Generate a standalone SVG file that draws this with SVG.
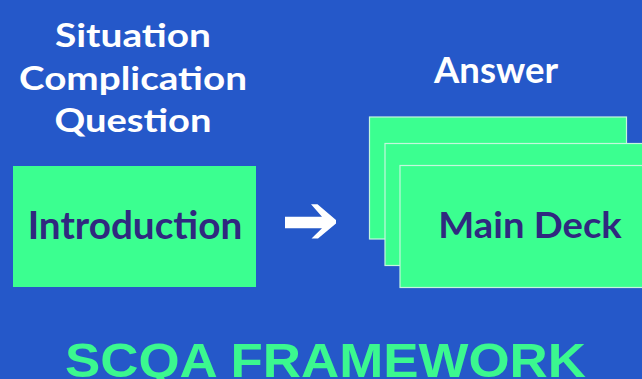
<svg xmlns="http://www.w3.org/2000/svg" width="642" height="379" viewBox="0 0 642 379">
<style>
.hdr{font-family:Lato,"Open Sans",sans-serif;font-weight:700;fill:#ffffff;text-anchor:middle}
.lbl{font-family:Lato,"Open Sans",sans-serif;font-weight:700;fill:#30287f}
.box{fill:#3bff90}
.card{fill:#3bff90;stroke:#c4f7dc;stroke-width:1.2}
.title{font-family:"Liberation Sans",Arial,sans-serif;font-weight:700;fill:#3bf88f}
</style>
<rect x="0" y="0" width="642" height="379" fill="#2558c9"/>
<g id="header-left">
<text class="hdr" x="133" y="46.7" font-size="32.5" textLength="156" lengthAdjust="spacingAndGlyphs">Situation</text>
<text class="hdr" x="133" y="90" font-size="32.5" textLength="228" lengthAdjust="spacingAndGlyphs">Complication</text>
<text class="hdr" x="133" y="131.7" font-size="32.5" textLength="157" lengthAdjust="spacingAndGlyphs">Question</text>
</g>
<g id="header-right">
<text class="hdr" x="496" y="83.3" font-size="36" textLength="124" lengthAdjust="spacingAndGlyphs">Answer</text>
</g>
<g id="introduction">
<rect class="box" x="13" y="166" width="243" height="121"/>
<text class="lbl" x="27.7" y="239.3" font-size="37.5" textLength="214.6" lengthAdjust="spacingAndGlyphs">Introduction</text>
</g>
<g id="connectors">
<polygon fill="#ffffff" points="285,216.7 322,216.7 311,204.3 317.5,204.3 336,220 336,223.5 318,238.5 311.5,238.5 322,228.3 285,228.3"/>
</g>
<g id="main-deck">
<rect class="card" x="369.5" y="117" width="257" height="122"/>
<rect class="card" x="385" y="143.5" width="262" height="122"/>
<rect class="card" x="400" y="165.5" width="247" height="122"/>
<text class="lbl" x="438.3" y="238.3" font-size="36" textLength="183.4" lengthAdjust="spacingAndGlyphs">Main Deck</text>
</g>
<g id="title">
<text class="title" x="65" y="376.7" font-size="48" textLength="521" lengthAdjust="spacingAndGlyphs">SCQA FRAMEWORK</text>
</g>
</svg>
